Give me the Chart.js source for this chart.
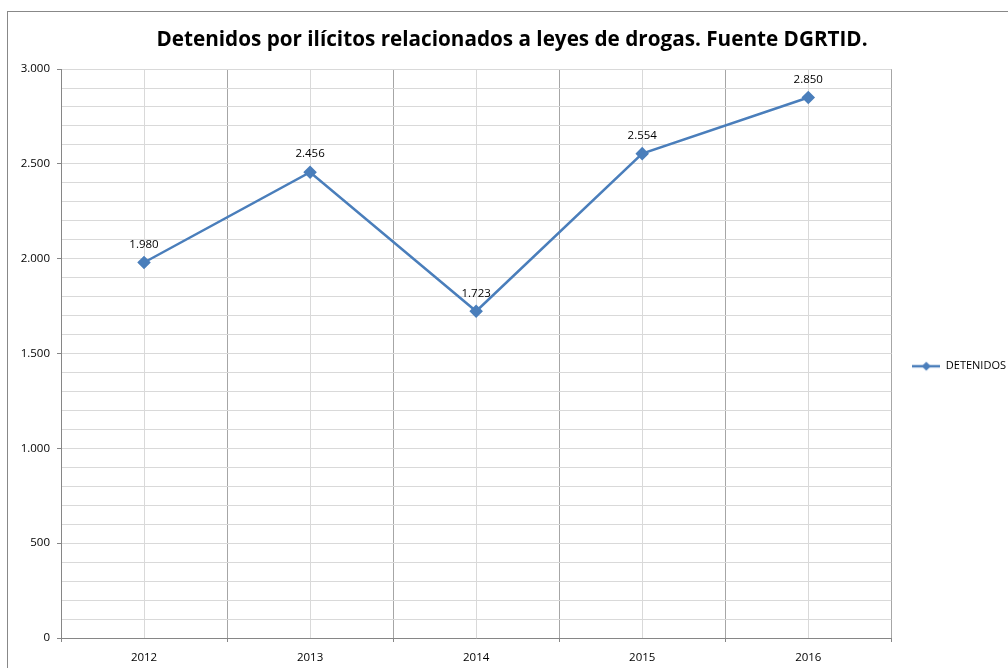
<!DOCTYPE html>
<html>
<head>
<meta charset="utf-8">
<script src="https://cdn.jsdelivr.net/npm/chart.js@4/dist/chart.umd.min.js"></script>
<style>
  html, body { margin: 0; padding: 0; background: #fff; overflow: hidden; }
  #frame { position: absolute; left: 7px; top: 11px; width: 1008px; height: 660px; border: 1px solid #888; }
  canvas { display: block; }
</style>
</head>
<body>
<div id="frame"><canvas id="chart" width="1008" height="660"></canvas></div>
<script>
// Chart data
const years = ['2012', '2013', '2014', '2015', '2016'];
const detenidos = [1980, 2456, 1723, 2554, 2850];
const seriesName = 'DETENIDOS';
const titleText = 'Detenidos por ilícitos relacionados a leyes de drogas. Fuente DGRTID.';

const lineColor = '#4a7ebb';

// Format numbers with a dot as thousands separator
function fmt(v) {
    return String(v).replace(/\B(?=(\d{3})+(?!\d))/g, '.');
}

// Legend symbol: short line with a diamond in the middle
function legendSymbol() {
    const c = document.createElement('canvas');
    c.width = 28;
    c.height = 12;
    const g = c.getContext('2d');
    g.strokeStyle = lineColor;
    g.lineWidth = 2.5;
    g.beginPath();
    g.moveTo(0, 6);
    g.lineTo(28, 6);
    g.stroke();
    g.fillStyle = lineColor;
    g.beginPath();
    g.moveTo(14, 1.5);
    g.lineTo(18.5, 6);
    g.lineTo(14, 10.5);
    g.lineTo(9.5, 6);
    g.closePath();
    g.fill();
    return c;
}

// Value labels above each point
const valueLabels = {
    id: 'valueLabels',
    afterDatasetsDraw(chart) {
        const ctx = chart.ctx;
        const meta = chart.getDatasetMeta(0);
        ctx.save();
        ctx.font = '11.5px "Open Sans", sans-serif';
        ctx.fillStyle = '#000';
        ctx.textAlign = 'center';
        ctx.textBaseline = 'middle';
        meta.data.forEach((pt, i) => {
            ctx.fillText(fmt(chart.data.datasets[0].data[i]), pt.x, pt.y - 18);
        });
        ctx.restore();
    }
};

const tickFont = { family: '"Open Sans", sans-serif', size: 11.5 };

new Chart(document.getElementById('chart'), {
    type: 'line',
    data: {
        labels: years,
        datasets: [{
            label: seriesName,
            data: detenidos,
            borderColor: lineColor,
            backgroundColor: lineColor,
            borderWidth: 2.5,
            tension: 0,
            pointStyle: 'rectRot',
            pointRadius: 5,
            pointHoverRadius: 5,
            pointBackgroundColor: lineColor,
            pointBorderColor: lineColor
        }]
    },
    options: {
        responsive: false,
        animation: false,
        events: [],
        layout: { padding: { left: 0, right: 0, top: 0, bottom: 0 } },
        plugins: {
            title: {
                display: true,
                text: titleText,
                color: '#000',
                font: { family: '"Open Sans", sans-serif', size: 20.7, weight: 'bold' },
                padding: { top: 15.6, bottom: 16.6 }
            },
            legend: {
                position: 'right',
                title: { display: true, text: ' ', font: { size: 12 }, padding: 17 },
                labels: {
                    usePointStyle: true,
                    pointStyle: legendSymbol(),
                    pointStyleWidth: 28,
                    color: '#000',
                    font: { family: '"Open Sans", sans-serif', size: 11 },
                    padding: 14
                }
            },
            tooltip: { enabled: false }
        },
        scales: {
            x: {
                offset: true,
                grid: { offset: true, color: '#a6a6a6', tickColor: '#868686', tickLength: 4 },
                border: { color: '#868686' },
                ticks: { color: '#000', font: tickFont, padding: 9 },
                afterFit(s) { s.height = 34; }
            },
            x2: {
                type: 'category',
                position: 'bottom',
                offset: true,
                grid: { offset: false, color: '#d9d9d9', drawTicks: false },
                border: { display: false },
                ticks: { display: false },
                afterFit(s) { s.height = 0; }
            },
            y: {
                min: 0,
                max: 3000,
                ticks: {
                    stepSize: 100,
                    color: '#000',
                    font: tickFont,
                    padding: 7,
                    autoSkip: false,
                    callback: v => (v % 500 === 0 ? fmt(v) : '')
                },
                grid: {
                    color: '#d9d9d9',
                    tickLength: 4,
                    tickColor: c => (c.tick && c.tick.value % 500 === 0 ? '#868686' : 'rgba(0,0,0,0)')
                },
                border: { color: '#868686' },
                afterFit(s) { s.width = 53; }
            },
            // empty spacer between plot area and legend
            yGap: {
                position: 'right',
                display: true,
                grid: { display: false, drawTicks: false },
                border: { display: false },
                ticks: { display: false },
                afterFit(s) { s.width = 7; }
            }
        }
    },
    plugins: [valueLabels]
});
</script>
</body>
</html>
